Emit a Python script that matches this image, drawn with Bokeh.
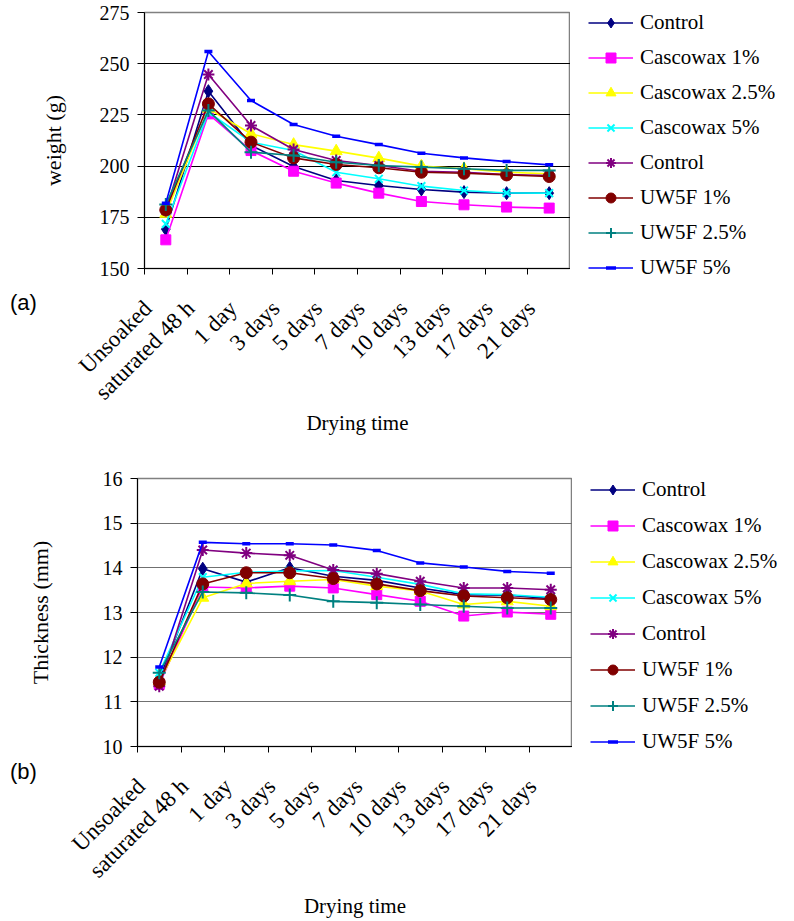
import math
from bokeh.plotting import figure
from bokeh.models import (Range1d, FixedTicker, ColumnDataSource, Div,
                          Legend, LegendItem, CustomJSTickFormatter)
from bokeh.layouts import column, row
from bokeh.embed import file_html
from bokeh.resources import INLINE

categories = ["Unsoaked", "saturated 48 h", "1 day", "3 days", "5 days", "7 days",
              "10 days", "13 days", "17 days", "21 days"]
series_names = ["Control", "Cascowax 1%", "Cascowax 2.5%", "Cascowax 5%",
                "Control", "UW5F 1%", "UW5F 2.5%", "UW5F 5%"]

# (a) weight (g)
w_control_c = [169.2, 236.6, 210.1, 199.8, 193.0, 190.5, 188.6, 187.3, 186.8, 186.8]
w_casco_1 = [164.0, 225.5, 207.6, 197.5, 191.7, 186.8, 182.7, 181.1, 180.0, 179.5]
w_casco_25 = [176.7, 228.0, 215.8, 210.5, 207.3, 203.9, 200.0, 198.7, 197.0, 196.2]
w_casco_5 = [171.8, 226.3, 211.7, 207.6, 197.0, 193.8, 190.2, 188.1, 186.9, 186.8]
w_control_u = [178.3, 244.7, 219.8, 208.1, 202.7, 200.3, 197.5, 197.0, 195.9, 195.4]
w_uw_1 = [178.6, 230.4, 211.7, 204.0, 200.8, 199.2, 197.0, 196.5, 195.7, 194.9]
w_uw_25 = [181.2, 227.1, 206.8, 205.2, 201.9, 200.3, 199.5, 198.7, 197.9, 197.9]
w_uw_5 = [181.9, 256.0, 232.0, 220.3, 214.6, 210.5, 206.3, 204.0, 202.2, 200.6]

# (b) thickness (mm)
t_control_c = [11.50, 13.98, 13.68, 14.00, 13.81, 13.72, 13.55, 13.40, 13.39, 13.31]
t_casco_1 = [11.39, 13.57, 13.55, 13.59, 13.55, 13.40, 13.25, 12.92, 13.01, 12.96]
t_casco_25 = [11.46, 13.33, 13.65, 13.70, 13.74, 13.59, 13.48, 13.18, 13.25, 13.14]
t_casco_5 = [11.65, 13.79, 13.90, 13.93, 13.94, 13.79, 13.63, 13.42, 13.40, 13.34]
t_control_u = [11.35, 14.40, 14.33, 14.28, 13.95, 13.87, 13.70, 13.55, 13.55, 13.51]
t_uw_1 = [11.44, 13.64, 13.89, 13.89, 13.76, 13.64, 13.49, 13.37, 13.33, 13.29]
t_uw_25 = [11.65, 13.46, 13.44, 13.39, 13.25, 13.22, 13.18, 13.14, 13.10, 13.10]
t_uw_5 = [11.78, 14.57, 14.54, 14.54, 14.51, 14.39, 14.11, 14.02, 13.92, 13.88]

weight_series = [w_control_c, w_casco_1, w_casco_25, w_casco_5, w_control_u, w_uw_1, w_uw_25, w_uw_5]
thick_series = [t_control_c, t_casco_1, t_casco_25, t_casco_5, t_control_u, t_uw_1, t_uw_25, t_uw_5]

weight_ticks = [150, 175, 200, 225, 250, 275]
thick_ticks = [10, 11, 12, 13, 14, 15, 16]

colors = ["#000080", "#FF00FF", "#FFFF00", "#00FFFF", "#800080", "#800000", "#008080", "#0000FF"]
markers = ["diamond", "square", "triangle", "x", "asterisk", "circle", "cross", "dash"]
msizes = [13, 10, 12, 11, 12, 12, 13, 8]
SERIF = "Liberation Serif"
H1, H2 = 465, 456


def marker_width(m):
    return 2 if m in ("x", "asterisk", "cross") else (3.5 if m == "dash" else 1)


def make_chart(series, yticks, ytitle, height, fl, fr, ft, fb,
               grid_color, title_standoff, label_shift,
               label_standoff, xtitle_standoff):
    p = figure(frame_width=fr - fl, frame_height=fb - ft, output_backend="svg",
               toolbar_location=None, title=None, min_border_left=fl,
               min_border_right=0, min_border_top=ft, min_border_bottom=height - fb)
    nx = len(categories)
    p.x_range = Range1d(0, nx)
    p.y_range = Range1d(yticks[0], yticks[-1])
    p.outline_line_color = "#808080"
    p.outline_line_width = 1.5

    xs = [i + 0.5 for i in range(nx)]
    for vals, c, m, s in zip(series, colors, markers, msizes):
        src = ColumnDataSource(dict(x=xs, y=vals))
        p.line("x", "y", source=src, line_color=c, line_width=1.6)
        p.scatter("x", "y", source=src, marker=m, size=s, line_color=c,
                  fill_color=c, line_width=marker_width(m))

    # x axis: tick marks at category boundaries (minor), labels near centers (major)
    label_pos = [i + 0.5 - label_shift for i in range(nx)]
    p.xaxis.ticker = FixedTicker(ticks=label_pos, minor_ticks=list(range(nx + 1)))
    p.xaxis.formatter = CustomJSTickFormatter(args=dict(names=categories),
                                              code="return names[index]")
    p.xaxis.major_tick_line_color = None
    p.xaxis.major_tick_out = 0
    p.xaxis.major_tick_in = 0
    p.xaxis.minor_tick_out = 6
    p.xaxis.minor_tick_in = 0
    p.xaxis.minor_tick_line_color = "black"
    p.xaxis.axis_line_color = "black"
    p.xaxis.major_label_orientation = math.pi / 4
    p.xaxis.major_label_standoff = label_standoff
    p.xaxis.major_label_text_font = SERIF
    p.xaxis.major_label_text_font_size = "23px"
    p.xaxis.major_label_text_color = "black"
    p.xaxis.axis_label = "Drying time"
    p.xaxis.axis_label_text_font = SERIF
    p.xaxis.axis_label_text_font_size = "21px"
    p.xaxis.axis_label_text_font_style = "normal"
    p.xaxis.axis_label_text_color = "black"
    p.xaxis.axis_label_standoff = xtitle_standoff
    p.xgrid.grid_line_color = None

    p.yaxis.ticker = FixedTicker(ticks=yticks)
    p.yaxis.major_tick_out = 7
    p.yaxis.major_tick_in = 0
    p.yaxis.minor_tick_line_color = None
    p.yaxis.axis_line_color = "black"
    p.yaxis.major_tick_line_color = "black"
    p.yaxis.major_label_text_font = SERIF
    p.yaxis.major_label_text_font_size = "20px"
    p.yaxis.major_label_text_color = "black"
    p.yaxis.major_label_standoff = 8
    p.yaxis.axis_label = ytitle
    p.yaxis.axis_label_text_font = SERIF
    p.yaxis.axis_label_text_font_size = "22px"
    p.yaxis.axis_label_text_font_style = "normal"
    p.yaxis.axis_label_text_color = "black"
    p.yaxis.axis_label_standoff = title_standoff
    p.ygrid.ticker = FixedTicker(ticks=yticks[1:-1])
    p.ygrid.grid_line_color = grid_color
    p.ygrid.grid_line_width = 1.2
    return p


def make_legend(series, width, height, spacing, vy):
    # legend-only figure: proxies use the series data but lie outside its 0..1 y range
    lf = figure(width=width, height=height, output_backend="svg", toolbar_location=None,
                title=None, x_axis_type=None, y_axis_type=None, min_border=0,
                x_range=Range1d(0, 1), y_range=Range1d(0, 1))
    lf.outline_line_color = None
    lf.background_fill_alpha = 0
    xs = [i + 0.5 for i in range(len(categories))]
    items = []
    for name, vals, c, m, s in zip(series_names, series, colors, markers, msizes):
        src = ColumnDataSource(dict(x=xs, y=vals))
        rl = lf.line("x", "y", source=src, line_color=c, line_width=1.6)
        rm = lf.scatter("x", "y", source=src, marker=m, size=s, line_color=c,
                        fill_color=c, line_width=marker_width(m))
        items.append(LegendItem(label=name, renderers=[rl, rm]))
    legend = Legend(items=items, location=(18, vy),
                    glyph_width=45, glyph_height=25, label_height=25,
                    spacing=spacing, padding=0, margin=0, label_standoff=7,
                    label_text_font=SERIF, label_text_font_size="21px",
                    label_text_color="black", border_line_color=None,
                    background_fill_alpha=0)
    lf.add_layout(legend, "center")
    return lf


def panel_div(text, top, fig_height, last):
    html = ('<span style="font-family: \'Liberation Sans\'; font-size: 22px; '
            'color: black; line-height: 30px;">%s</span>' % text)
    bottom = 0 if last else fig_height - (top + 30)
    return Div(text=html, width=44, height=30,
               margin=(-(fig_height - top), 0, bottom, 10))


p1 = make_chart(weight_series, weight_ticks, "weight (g)", H1,
                144, 570, 12, 268, "black", 31, 0.42, 30, -5)
p2 = make_chart(thick_series, thick_ticks, "Thickness (mm)", H2,
                137, 572, 13, 281, "#707070", 47, 0.42, 30, 0)
lf1 = make_legend(weight_series, 222, H1, 10, 185)
lf2 = make_legend(thick_series, 220, H2, 11, 167)

div_a = panel_div("(a)", 288, H1, False)
div_b = panel_div("(b)", 757 - H1, H2, True)

# nesting the legend figure in its own column keeps its frame independent of the chart's
layout = column(row(p1, column(lf1), spacing=0), div_a,
                row(p2, column(lf2), spacing=0), div_b, spacing=0)
open("out.html", "w").write(file_html(layout, INLINE))
